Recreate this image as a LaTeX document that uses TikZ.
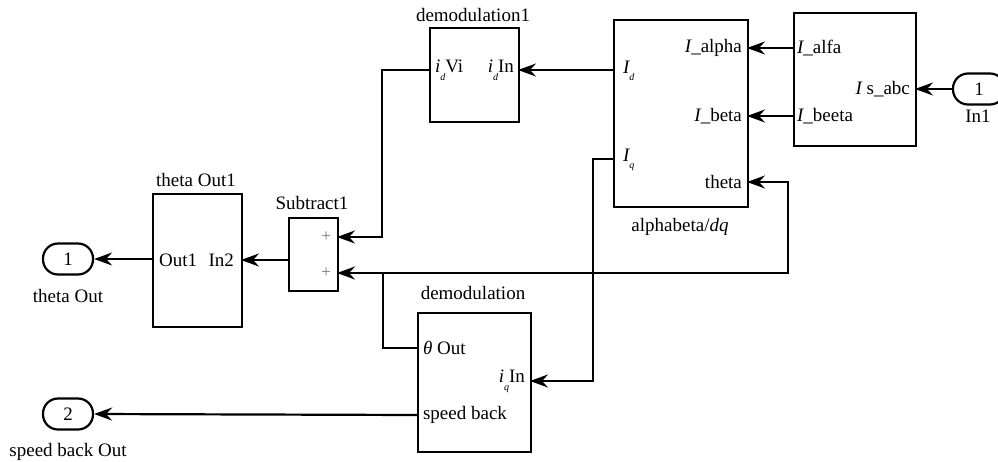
\documentclass[tikz,border=0pt]{standalone}
\usepackage{fontspec}
\setmainfont{Liberation Serif}
\usetikzlibrary{arrows.meta,calc}
\newcommand{\sbs}[2]{{\itshape #1}\raisebox{-0.4em}{\fontsize{10}{10}\selectfont\itshape #2}}
\begin{document}
\begin{tikzpicture}[x=1pt,y=-1pt,line width=2.2pt,
  font=\fontsize{19}{22}\selectfont,
  blk/.style={draw,line width=2.2pt,inner sep=0pt,anchor=north west},
  port/.style={draw,line width=2.2pt,rounded corners=15pt,minimum width=50pt,minimum height=31pt,inner sep=0pt},
  txt/.style={inner sep=0pt},
  arr/.style={-{Stealth[length=18pt,width=13pt,inset=6pt]}},
  plus/.style={inner sep=0pt,anchor=east,text=black!55,font=\fontsize{17}{17}\selectfont}]
\useasboundingbox (0,0) rectangle (998,461);

% blocks
\node[blk,minimum width=89pt,minimum height=94pt] (demod1) at (429,27) {};
\node[blk,minimum width=134pt,minimum height=187pt] (ab) at (613,19) {};
\node[blk,minimum width=122pt,minimum height=133pt] (isabc) at (793,12) {};
\node[blk,minimum width=89pt,minimum height=133pt] (tout1) at (152,193) {};
\node[blk,minimum width=49pt,minimum height=73pt] (sub) at (288,217) {};
\node[blk,minimum width=113pt,minimum height=139pt] (demod) at (417,312) {};

% ports
\node[port,minimum width=52pt] (in1) at (979,89) {1};
\node[port] (out1) at (68,259) {1};
\node[port] (out2) at (68,414) {2};

% block labels
\node[txt] (l1) at (473,15) {demodulation1};
\node[txt] (l2) at (680,227) {alphabeta/{\itshape dq}};
\node[txt] (l3) at (196,180) {theta Out1};
\node[txt] (l4) at (312,203) {Subtract1};
\node[txt] (l5) at (473,293) {demodulation};
\node[txt] (l6) at (978,116) {In1};
\node[txt] (l7) at (68,296) {theta Out};
\node[txt] (l8) at (68,452) {speed back Out};

% port texts
\node[txt,anchor=west] (t1) at (434,70) {\sbs{i}{d}Vi};
\node[txt,anchor=east] (t2) at (515,70) {\sbs{i}{d}In};
\node[txt,anchor=west] (t3) at (622,71) {\sbs{I}{d}};
\node[txt,anchor=west] (t4) at (622,160) {\sbs{I}{q}};
\node[txt,anchor=east] (t5) at (743,48) {{\itshape I}\_alpha};
\node[txt,anchor=east] (t6) at (743,116) {{\itshape I}\_beta};
\node[txt,anchor=east] (t7) at (743,182) {theta};
\node[txt,anchor=west] (t8) at (796,48) {{\itshape I}\_alfa};
\node[txt,anchor=west] (t9) at (796,116) {{\itshape I}\_beeta};
\node[txt,anchor=east] (t10) at (911,89) {{\itshape I} s\_abc};
\node[plus] (p1) at (332,237) {+};
\node[plus] (p2) at (332,273) {+};
\node[txt,anchor=west] (t11) at (158,260) {Out1};
\node[txt,anchor=east] (t12) at (235,260) {In2};
\node[txt,anchor=west] (t13) at (422,348) {{\itshape θ} Out};
\node[txt,anchor=east] (t14) at (526,381) {\sbs{i}{q}In};
\node[txt,anchor=west] (t15) at (422,415) {speed back};

% port coordinates
\coordinate (isIn) at (915,89);
\coordinate (isAlfa) at (793,48);
\coordinate (isBeeta) at (793,116);
\coordinate (abAlpha) at (747,48);
\coordinate (abBeta) at (747,116);
\coordinate (abTh) at (747,182);
\coordinate (abId) at (613,70);
\coordinate (abIq) at (613,159);
\coordinate (d1In) at (518,70);
\coordinate (d1Vi) at (429,70);
\coordinate (subP1) at (337,237);
\coordinate (subP2) at (337,273);
\coordinate (subOut) at (288,260);
\coordinate (toIn2) at (241,260);
\coordinate (toOut) at (152,259);
\coordinate (dTh) at (417,348);
\coordinate (dIq) at (530,381);
\coordinate (dSp) at (417,415);
\coordinate (c1) at (382,237);
\coordinate (c2) at (593,381);
\coordinate (c3) at (383,273);
\coordinate (c4) at (788,182);

% connectors
\draw[arr] (in1.west) -- (isIn);
\draw[arr] (isAlfa) -- (abAlpha);
\draw[arr] (isBeeta) -- (abBeta);
\draw[arr] (abId) -- (d1In);
\draw[arr] (d1Vi) -| (c1) -- (subP1);
\draw[arr] (abIq) -| (c2) -- (dIq);
\draw (dTh) -| (c3);
\draw[arr] (c3) -- (subP2);
\draw[arr] (c3) -| (c4) -- (abTh);
\draw[arr] (subOut) -- (toIn2);
\draw[arr] (toOut) -- (out1.east);
\draw[arr] (dSp) -- (out2.east);
\end{tikzpicture}
\end{document}
